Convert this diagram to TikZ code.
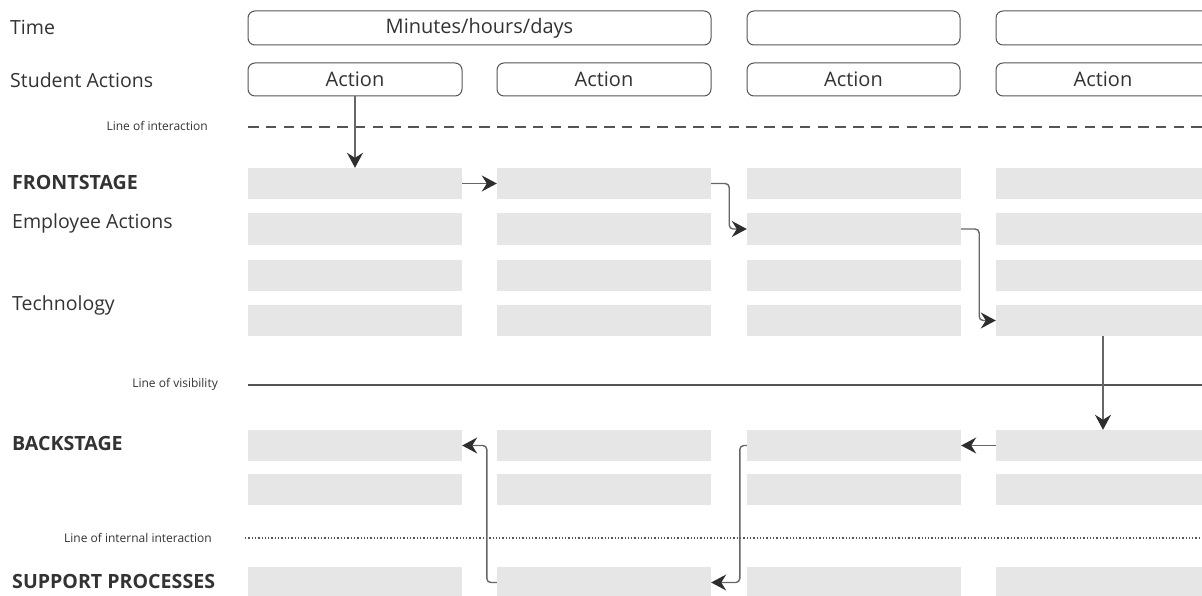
\documentclass[tikz,border=0pt]{standalone}
\usepackage{fontspec}
\setmainfont{Open Sans}
\usetikzlibrary{arrows.meta}
\definecolor{boxgray}{HTML}{E6E6E6}
\definecolor{linegray}{HTML}{555555}
\definecolor{arrgray}{HTML}{666666}
\definecolor{tipgray}{HTML}{2E2E2E}
\definecolor{textgray}{HTML}{333333}
\tikzset{
  lane/.style={rectangle, fill=boxgray, draw=none, inner sep=0pt, minimum width=214pt, minimum height=31pt},
  rbox/.style={rectangle, rounded corners=7pt, draw=linegray, line width=1pt, inner sep=0pt, minimum height=33pt, text=textgray, font=\fontsize{20}{22}\selectfont},
  biglabel/.style={anchor=west, text=textgray, inner sep=0pt, font=\fontsize{19.5}{22}\selectfont},
  boldlabel/.style={anchor=west, text=textgray, inner sep=0pt, font=\fontsize{19.6}{22}\selectfont\bfseries},
  smalllabel/.style={anchor=east, text=textgray, inner sep=0pt, font=\fontsize{12}{14}\selectfont},
  arr/.style={draw=arrgray, line width=1.4pt, rounded corners=4pt, -{Stealth[length=15pt, width=16pt, inset=5pt, color=tipgray]}}
}
\begin{document}
\begin{tikzpicture}[x=1pt, y=-1pt]
\useasboundingbox (0,0) rectangle (1202,596);
% row labels
\node[biglabel] (lTime) at (10,27) {Time};
\node[biglabel] (lStud) at (10,80) {Student Actions};
\node[smalllabel] (lInt) at (208,126) {Line of interaction};
\node[boldlabel] (lFront) at (12,182) {FRONTSTAGE};
\node[biglabel] (lEmp) at (12,223) {Employee Actions};
\node[biglabel] (lTech) at (12,305) {Technology};
\node[smalllabel] (lVis) at (218,384) {Line of visibility};
\node[boldlabel] (lBack) at (12,443) {BACKSTAGE};
\node[smalllabel] (lIntl) at (212,538) {Line of internal interaction};
\node[boldlabel] (lSup) at (12,581) {SUPPORT PROCESSES};
% time row
\node[rbox, minimum width=463pt, minimum height=34pt] (t1) at (479.5,28) {Minutes/hours/days};
\node[rbox, minimum width=213pt, minimum height=34pt] (t2) at (853.5,28) {};
\node[rbox, minimum width=214pt, minimum height=34pt] (t3) at (1103,28) {};
% action row
\node[rbox, minimum width=214pt] (a1) at (355,79.5) {Action};
\node[rbox, minimum width=214pt] (a2) at (604,79.5) {Action};
\node[rbox, minimum width=213pt] (a3) at (853.5,79.5) {Action};
\node[rbox, minimum width=214pt] (a4) at (1103,79.5) {Action};
% lines
\coordinate (iL) at (248,127); \coordinate (iR) at (1206,127);
\draw[linegray, line width=2pt, dash pattern=on 10.5pt off 7.3pt] (iL) -- (iR);
\coordinate (vL) at (248,385); \coordinate (vR) at (1202,385);
\draw[linegray, line width=1.6pt] (vL) -- (vR);
\coordinate (dL) at (245,538); \coordinate (dR) at (1202,538);
\draw[linegray, line width=1.2pt, dash pattern=on 1.3pt off 2pt] (dL) -- (dR);
% lanes
\foreach \c/\x in {1/355,2/604,3/854,4/1103}{
  \node[lane] (f1c\c) at (\x,183.5) {};
  \node[lane] (f2c\c) at (\x,229) {};
  \node[lane] (f3c\c) at (\x,275) {};
  \node[lane] (f4c\c) at (\x,320.5) {};
  \node[lane] (b1c\c) at (\x,445.5) {};
  \node[lane] (b2c\c) at (\x,489.5) {};
  \node[lane] (s1c\c) at (\x,582.5) {};
}
% arrows
\draw[arr] (a1.south) -- (f1c1.north);
\draw[arr] (f1c1.east) -- (f1c2.west);
\draw[arr] (f1c2.east) -- ++(18,0) |- (f2c3.west);
\draw[arr] (f2c3.east) -- ++(18,0) |- (f4c4.west);
\draw[arr] (f4c4.south) -- (b1c4.north);
\draw[arr] (b1c4.west) -- (b1c3.east);
\draw[arr] (b1c3.west) -- ++(-7,0) |- (s1c2.east);
\draw[arr] (s1c2.west) -- ++(-10,0) |- (b1c1.east);
\end{tikzpicture}
\end{document}
